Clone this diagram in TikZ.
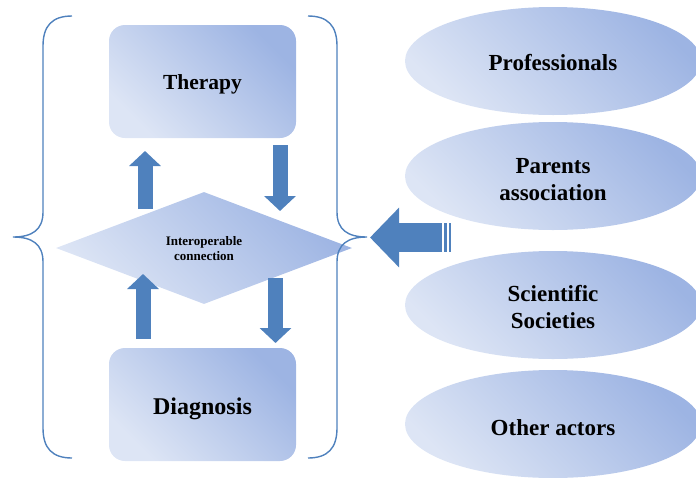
\documentclass[tikz,border=0pt]{standalone}
\usepackage{fontspec}
\setmainfont{Liberation Serif}
\usetikzlibrary{shapes.geometric, arrows.meta}

\definecolor{accent}{RGB}{79,129,189}
\definecolor{shadelight}{RGB}{221,229,245}
\definecolor{shadedark}{RGB}{157,180,227}

\begin{document}
\begin{tikzpicture}[x=1pt, y=-1pt,
				shaded/.style={top color=shadedark, bottom color=shadelight, shading angle=-45, text depth=0pt},
				box/.style={shaded, rectangle, rounded corners=16pt, minimum width=187pt, minimum height=113pt, inner sep=0pt},
				actor/.style={shaded, ellipse, minimum width=296pt, minimum height=108pt, inner sep=0pt, align=center, font=\fontsize{23}{27}\selectfont\bfseries},
				brace/.style={draw=accent, line width=1.4pt},
				flow/.style={draw=accent, line width=15pt, -{Triangle[width=31pt, length=15pt]}}
				]
				
				\useasboundingbox (0,0) rectangle (696,477);
				
				\node[box, text height=15pt, font=\fontsize{21.5}{24}\selectfont\bfseries] (therapy) at (202.5,81.5) {Therapy};
				\node[box, text height=19pt, font=\fontsize{24}{27}\selectfont\bfseries] (diagnosis) at (202.5,404.5) {Diagnosis};
				\node[shaded, diamond, text height=25pt, minimum width=296pt, minimum height=112pt, inner sep=0pt, align=center, font=\fontsize{13}{15}\selectfont\bfseries] (link) at (204,248) {Interoperable\\connection};
				
				\node[actor, text height=18pt] (prof) at (553,61) {Professionals};
				\node[actor, text height=48pt] (parents) at (553,176) {Parents\\association};
				\node[actor, text height=46pt] (science) at (553,305) {Scientific\\Societies};
				\node[actor, text height=22pt] (other) at (553,424) {Other actors};
				
				\coordinate (up1) at (145,209);   \coordinate (up1t) at (145,151);
				\coordinate (dn1) at (280,145);   \coordinate (dn1t) at (280,211);
				\coordinate (up2) at (143,339);   \coordinate (up2t) at (143,274);
				\coordinate (dn2) at (275.5,278); \coordinate (dn2t) at (275.5,343);
				\draw[flow] (up1) -- (up1t);
				\draw[flow] (dn1) -- (dn1t);
				\draw[flow] (up2) -- (up2t);
				\draw[flow] (dn2) -- (dn2t);
				
				\coordinate (feed) at (442,237.5);
				\coordinate (feedt) at (370,237.5);
				\draw[draw=accent, line width=29pt, -{Triangle[width=58pt, length=29pt]}] (feed) -- (feedt);
				\fill[accent] (444,223) rectangle (447,252);
				\fill[accent] (449,223) rectangle (451,252);
				
				\draw[brace] (72,16) .. controls (52,16) and (43,26) .. (43,46) -- (43,212)
					.. controls (43,230) and (32,237) .. (13,237)
					.. controls (32,237) and (43,244) .. (43,262) -- (43,428)
					.. controls (43,448) and (52,458) .. (72,458);
				\draw[brace] (308,16) .. controls (328,16) and (337,26) .. (337,46) -- (337,212)
					.. controls (337,230) and (348,237) .. (367,237)
					.. controls (348,237) and (337,244) .. (337,262) -- (337,428)
					.. controls (337,448) and (328,458) .. (308,458);
				
			\end{tikzpicture}
\end{document}
